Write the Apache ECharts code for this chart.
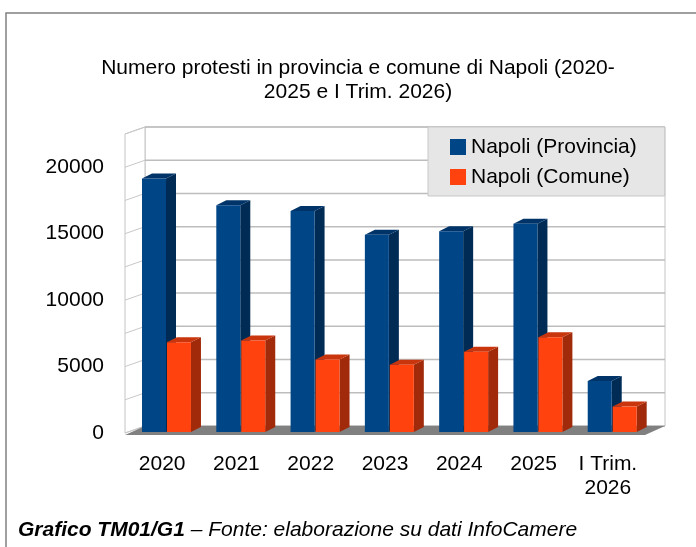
<!DOCTYPE html>
<html>
<head>
<meta charset="utf-8">
<script src="https://cdn.jsdelivr.net/npm/echarts@6/dist/echarts.min.js"></script>
<style>
html, body { margin: 0; padding: 0; background: #fff; }
#main { width: 696px; height: 547px; }
</style>
</head>
<body>
<div id="main"></div>
<script>
var categorie = ['2020', '2021', '2022', '2023', '2024', '2025', 'I Trim.\n2026'];
var provincia = [19150, 17130, 16700, 14920, 15190, 15750, 3920];
var comune = [6820, 6970, 5530, 5130, 6110, 7210, 1990];
var yTicks = [0, 2500, 5000, 7500, 10000, 12500, 15000, 17500, 20000, 22500];

var font = "'Liberation Sans', Arial, sans-serif";
var myChart = echarts.init(document.getElementById('main'));

// profondita' pareti e barre (finto 3D)
var wallDx = 20, wallDy = -7;
var barDx = 10, barDy = -5;

function pareti(params, api) {
    var cs = params.coordSys;
    var xl = cs.x, xr = cs.x + cs.width;
    var y0 = api.coord([0, 0])[1];
    var yTop = api.coord([0, yTicks[yTicks.length - 1]])[1];
    var ch = [];
    // parete di fondo
    ch.push({ type: 'rect', shape: { x: xl + wallDx, y: yTop + wallDy, width: cs.width, height: y0 - yTop }, style: { fill: '#fff', stroke: '#c4c4c4', lineWidth: 1 } });
    // parete laterale
    ch.push({ type: 'polygon', shape: { points: [[xl, yTop], [xl + wallDx, yTop + wallDy], [xl + wallDx, y0 + wallDy], [xl, y0]] }, style: { fill: '#fff', stroke: '#c4c4c4', lineWidth: 1 } });
    for (var i = 0; i < yTicks.length; i++) {
        var y = api.coord([0, yTicks[i]])[1];
        ch.push({ type: 'line', shape: { x1: xl + wallDx, y1: y + wallDy, x2: xr + wallDx, y2: y + wallDy }, style: { stroke: '#bdbdbd', lineWidth: 1.5 } });
        ch.push({ type: 'line', shape: { x1: xl, y1: y, x2: xl + wallDx, y2: y + wallDy }, style: { stroke: '#c8c8c8', lineWidth: 1 } });
    }
    // pavimento
    ch.push({ type: 'polygon', shape: { points: [[xl, y0 + 2], [xr, y0 + 2], [xr + wallDx, y0 + wallDy], [xl + wallDx, y0 + wallDy]] }, style: { fill: '#808080' } });
    return { type: 'group', children: ch };
}

function barra(offset, front, side, top) {
    return function (params, api) {
        var idx = api.value(0);
        var base = api.coord([idx, 0]);
        var tip = api.coord([idx, api.value(1)]);
        var band = api.size([1, 0])[0];
        var w = band * 0.323;
        var x0 = base[0] - band / 2 + band * offset;
        var yb = base[1] - 1, yt = tip[1];
        return {
            type: 'group',
            children: [
                { type: 'polygon', shape: { points: [[x0 + w, yt], [x0 + w + barDx, yt + barDy], [x0 + w + barDx, yb + barDy], [x0 + w, yb]] }, style: { fill: side } },
                { type: 'polygon', shape: { points: [[x0, yt], [x0 + barDx, yt + barDy], [x0 + w + barDx, yt + barDy], [x0 + w, yt]] }, style: { fill: top } },
                { type: 'rect', shape: { x: x0, y: yt, width: w, height: yb - yt }, style: { fill: front } }
            ]
        };
    };
}

function coppie(arr) {
    var out = [];
    for (var i = 0; i < arr.length; i++) out.push([i, arr[i]]);
    return out;
}

option = {
    animation: false,
    textStyle: { fontFamily: font },
    graphic: [
        { type: 'rect', shape: { x: 6, y: 13, width: 720, height: 560 }, style: { fill: 'none', stroke: '#808080', lineWidth: 1.5 }, z: -10 }
    ],
    title: [
        {
            text: 'Numero protesti in provincia e comune di Napoli (2020-\n2025 e I Trim. 2026)',
            left: 353,
            top: 51,
            textAlign: 'center',
            textStyle: { fontFamily: font, fontSize: 21, fontWeight: 'normal', color: '#000', lineHeight: 24 }
        },
        {
            text: '{b|Grafico TM01/G1} – Fonte: elaborazione su dati InfoCamere',
            left: 13,
            top: 515,
            textStyle: {
                fontFamily: font, fontSize: 21, fontStyle: 'italic', fontWeight: 'normal', color: '#000',
                rich: { b: { fontFamily: font, fontSize: 21, fontStyle: 'italic', fontWeight: 'bold', color: '#000' } }
            }
        }
    ],
    legend: {
        orient: 'vertical',
        left: 428,
        top: 127,
        padding: [8, 28, 7, 22],
        itemGap: 6,
        itemWidth: 16,
        itemHeight: 16,
        icon: 'rect',
        backgroundColor: '#e6e6e6',
        borderColor: '#c8c8c8',
        borderWidth: 1,
        textStyle: { fontFamily: font, fontSize: 21, color: '#000', lineHeight: 24 },
        data: ['Napoli (Provincia)', 'Napoli (Comune)']
    },
    grid: { left: 125, right: 51, top: 134, bottom: 114 },
    xAxis: {
        type: 'category',
        data: categorie,
        axisLine: { show: false },
        axisTick: { show: false },
        axisLabel: { fontFamily: font, fontSize: 21, color: '#000', lineHeight: 24, margin: 19, interval: 0 }
    },
    yAxis: {
        type: 'value',
        min: 0,
        max: 22500,
        interval: 2500,
        axisLine: { show: false },
        axisTick: { show: false },
        splitLine: { show: false },
        axisLabel: {
            fontFamily: font, fontSize: 21, color: '#000', margin: 21,
            formatter: function (v) { return (v % 5000 === 0 && v <= 20000) ? String(v) : ''; }
        }
    },
    series: [
        { name: 'pareti', type: 'custom', renderItem: pareti, data: [[0, 0]], silent: true, z: 1 },
        { name: 'Napoli (Provincia)', type: 'custom', renderItem: barra(0.229, '#004586', '#002b55', '#003469'), itemStyle: { color: '#004586' }, data: coppie(provincia), z: 2 },
        { name: 'Napoli (Comune)', type: 'custom', renderItem: barra(0.565, '#ff420e', '#a02a0a', '#c9350c'), itemStyle: { color: '#ff420e' }, data: coppie(comune), z: 3 }
    ]
};

myChart.setOption(option);
</script>
</body>
</html>
